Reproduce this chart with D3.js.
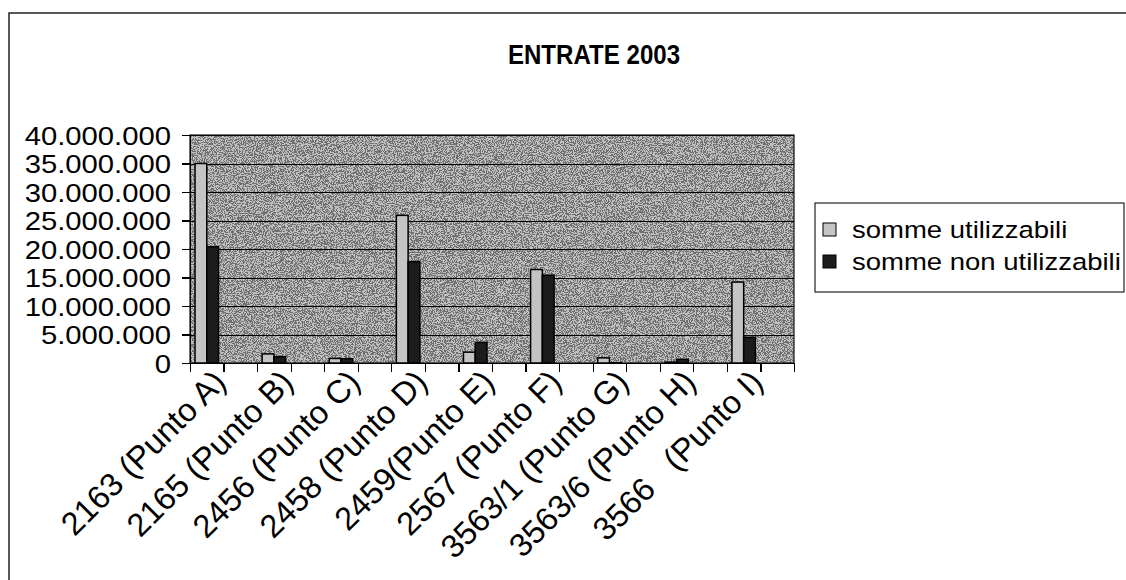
<!DOCTYPE html>
<html>
<head>
<meta charset="utf-8">
<script src="https://d3js.org/d3.v7.min.js"></script>
<style>
body { margin: 0; background: #fff; }
svg { display: block; }
text { font-family: "Liberation Sans", Arial, sans-serif; fill: #000; }
.axis path, .axis line { stroke: #000; stroke-width: 1.2px; shape-rendering: crispEdges; }
.grid line { stroke: #000; stroke-width: 1px; shape-rendering: crispEdges; }
.grid path { stroke-width: 0; }
</style>
</head>
<body>
<svg id="chart"></svg>
<script>

// categories (Excel shows every second one, the in-between ones are empty)
var categories = ["2163 (Punto A)", "", "2165 (Punto B)", "", "2456 (Punto C)", "",
                  "2458 (Punto D)", "", "2459(Punto E)", "", "2567 (Punto F)", "",
                  "3563/1 (Punto G)", "", "3563/6 (Punto H)", "", "3566   (Punto I)", ""];
var utilizzabili    = [35000000, null, 1600000, null, 800000, null, 25900000, null, 1900000, null,
                       16400000, null, 900000, null, 150000, null, 14200000, null];
var nonUtilizzabili = [20400000, null, 1100000, null, 750000, null, 17800000, null, 3600000, null,
                       15400000, null, 50000, null, 650000, null, 4500000, null];
var seriesNames = ["somme utilizzabili", "somme non utilizzabili"];
var yTicks = [0, 5000000, 10000000, 15000000, 20000000, 25000000, 30000000, 35000000, 40000000];
var title = "ENTRATE 2003";

var width = 1126, height = 580;
var plot = {left: 190, top: 135, right: 794, bottom: 363};
var sx = 1.17;   // the scan is wider than the font for the upright texts

var it = d3.formatLocale({decimal: ",", thousands: ".", grouping: [3], currency: ["€", ""]});
var fmt = it.format(",d");

var svg = d3.select("#chart").attr("width", width).attr("height", height);

// grain filter to mimic the printed halftone
var defs = svg.append("defs");
var f = defs.append("filter").attr("id", "grain")
    .attr("x", 0).attr("y", 0).attr("width", "100%").attr("height", "100%");
f.append("feTurbulence").attr("type", "fractalNoise").attr("baseFrequency", 0.9)
    .attr("numOctaves", 2).attr("seed", 7);
f.append("feColorMatrix").attr("type", "matrix")
    .attr("values", "1 0 0 0 0  1 0 0 0 0  1 0 0 0 0  0 0 0 0 1");
var ct = f.append("feComponentTransfer");
["feFuncR", "feFuncG", "feFuncB"].forEach(function(n) {
    ct.append(n).attr("type", "discrete").attr("tableValues", "0 1");
});

// outer frame of the chart
svg.append("rect")
    .attr("x", 9).attr("y", 13).attr("width", 1200).attr("height", 700)
    .style("fill", "none").style("stroke", "#222").style("stroke-width", "1.5px");

var idx = d3.range(categories.length);
var x = d3.scaleBand().domain(idx).range([plot.left, plot.right]).paddingInner(0.3).paddingOuter(0.15);
var xEdge = d3.scaleLinear().domain([0, categories.length]).range([plot.left, plot.right]);
var x1 = d3.scaleBand().domain([0, 1]).range([0, x.bandwidth()]);
var y = d3.scaleLinear().domain([0, 40000000]).range([plot.bottom, plot.top]);

// plot area
svg.append("rect")
    .attr("x", plot.left).attr("y", plot.top)
    .attr("width", plot.right - plot.left).attr("height", plot.bottom - plot.top)
    .style("fill", "#a2a2a2");
svg.append("rect")
    .attr("x", plot.left).attr("y", plot.top)
    .attr("width", plot.right - plot.left).attr("height", plot.bottom - plot.top)
    .attr("filter", "url(#grain)")
    .style("opacity", 0.3);

// gridlines
svg.append("g")
    .attr("class", "grid")
    .attr("transform", "translate(" + plot.left + ",0)")
    .call(d3.axisLeft(y).tickValues(yTicks).tickSize(-(plot.right - plot.left)).tickFormat(""));

svg.append("rect")
    .attr("x", plot.left).attr("y", plot.top)
    .attr("width", plot.right - plot.left).attr("height", plot.bottom - plot.top)
    .style("fill", "none").style("stroke", "#111").style("stroke-width", "1.2px");

// bars
var rows = idx.map(function(i) { return [utilizzabili[i], nonUtilizzabili[i]]; });
var groups = svg.append("g").selectAll("g")
    .data(rows)
    .enter().append("g")
    .attr("transform", function(d, i) { return "translate(" + x(i) + ",0)"; });

groups.selectAll("rect")
    .data(function(d) { return d.map(function(v, s) { return {v: v, s: s}; }).filter(function(e) { return e.v != null; }); })
    .enter().append("rect")
    .attr("x", function(d) { return x1(d.s); })
    .attr("width", x1.bandwidth())
    .attr("y", function(d) { return y(d.v); })
    .attr("height", function(d) { return y(0) - y(d.v); })
    .style("fill", function(d) { return d.s == 0 ? "#c4c4c4" : "#1c1c1c"; })
    .style("stroke", "#000")
    .style("stroke-width", "1.5px");

// y axis
var yAxis = svg.append("g")
    .attr("class", "axis")
    .attr("transform", "translate(" + plot.left + ",0)")
    .call(d3.axisLeft(y).tickValues(yTicks).tickSize(8).tickPadding(0).tickFormat(fmt));
yAxis.selectAll("text")
    .attr("x", 0)
    .attr("dy", "0.36em")
    .attr("transform", "translate(-19,0) scale(" + sx + ",1)")
    .style("font-size", "25px")
    .style("font-family", "'Liberation Sans', Arial, sans-serif");

// x axis: ticks between categories
var xAxis = svg.append("g")
    .attr("class", "axis")
    .attr("transform", "translate(0," + plot.bottom + ")")
    .call(d3.axisBottom(xEdge).tickValues(d3.range(categories.length + 1)).tickSize(9).tickFormat(""));

// category labels, rotated
svg.append("g").selectAll("text")
    .data(idx.filter(function(i) { return categories[i] != ""; }))
    .enter().append("text")
    .attr("transform", function(i) {
        var cx = x(i) + x.bandwidth() / 2;
        return "translate(" + (cx + 21) + "," + (plot.bottom + 21) + ") rotate(-45)";
    })
    .attr("text-anchor", "end")
    .style("font-size", "32.5px")
    .style("white-space", "pre")
    .text(function(i) { return categories[i]; });

// title (condensed bold in the original)
svg.append("text")
    .attr("transform", "translate(594,64) scale(0.86,1)")
    .attr("text-anchor", "middle")
    .style("font-size", "28px")
    .style("font-weight", "bold")
    .text(title);

// legend
var legend = svg.append("g");
legend.append("rect")
    .attr("x", 815).attr("y", 203).attr("width", 309).attr("height", 89)
    .style("fill", "#fff").style("stroke", "#222").style("stroke-width", "1.2px");
var items = legend.selectAll("g.item")
    .data(seriesNames)
    .enter().append("g")
    .attr("class", "item")
    .attr("transform", function(d, i) { return "translate(823," + (238 + i * 32) + ")"; });
items.append("rect")
    .attr("x", 0).attr("y", -15).attr("width", 13).attr("height", 13)
    .style("fill", function(d, i) { return i == 0 ? "#c4c4c4" : "#1c1c1c"; })
    .style("stroke", "#000").style("stroke-width", "1px");
items.append("text")
    .attr("transform", "translate(29,0) scale(" + sx + ",1)")
    .style("font-size", "23.5px")
    .text(function(d) { return d; });

</script>
</body>
</html>
